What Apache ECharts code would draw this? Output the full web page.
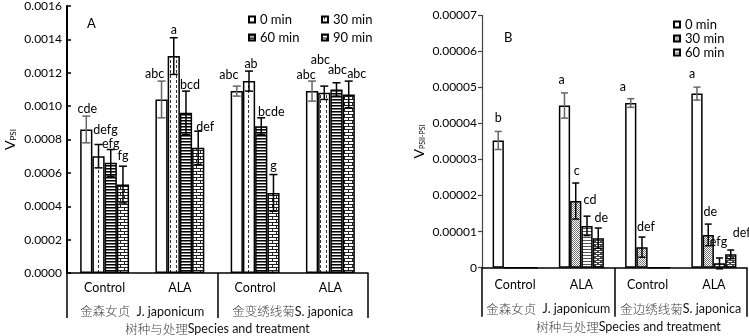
<!DOCTYPE html>
<html><head><meta charset="utf-8">
<script src="https://cdn.jsdelivr.net/npm/echarts@6/dist/echarts.min.js"></script>
<style>html,body{margin:0;padding:0;background:#fff}#c{width:749px;height:336px}</style>
</head><body><div id="c"></div>
<script>
// ---------- data ----------
const categories = ['Control', 'ALA', 'Control', 'ALA'];
const speciesA = ['金森女贞  J. japonicum', '金变绣线菊S. japonica'];
const speciesB = ['金森女贞  J. japonicum', '金边绣线菊S. japonica'];
const xAxisName = '树种与处理Species and treatment';
const seriesNames = ['0 min', '30 min', '60 min', '90 min'];

// Panel A: V_PSI
const a0  = [0.00086, 0.00104, 0.00109, 0.00109];
const a30 = [0.00070, 0.00130, 0.00115, 0.00108];
const a60 = [0.00066, 0.00096, 0.00088, 0.00110];
const a90 = [0.00053, 0.00075, 0.00048, 0.00107];
const aErr0  = [0.00008, 0.00011, 0.00003, 0.00006];
const aErr30 = [0.00007, 0.00011, 0.00006, 0.00004];
const aErr60 = [0.00008, 0.00013, 0.00005, 0.00004];
const aErr90 = [0.00011, 0.00010, 0.00011, 0.00008];
const aLet0  = ['cde', 'abc', 'abc', 'abc'];
const aLet30 = ['defg', 'a', 'ab', 'abc'];
const aLet60 = ['efg', 'bcd', 'bcde', 'abc'];
const aLet90 = ['fg', 'def', 'g', 'abc'];
const aTicks = [0, 0.0016, 0.0002];

// Panel B: V_PSII-PSI
const b0  = [0.0000353, 0.0000450, 0.0000457, 0.0000483];
const b30 = [0, 0.0000185, 0.0000057, 0.0000091];
const b60 = [0, 0.0000116, 0, 0.0000012];
const b90 = [0, 0.0000082, 0, 0.0000037];
const bErr0  = [0.0000025, 0.0000035, 0.0000012, 0.0000018];
const bErr30 = [0, 0.0000050, 0.0000028, 0.0000030];
const bErr60 = [0, 0.0000027, 0, 0.0000015];
const bErr90 = [0, 0.0000028, 0, 0.0000012];
const bLet0  = ['b', 'a', 'a', 'a'];
const bLet30 = ['', 'c', 'def', 'de'];
const bLet60 = ['', 'cd', '', 'efg'];
const bLet90 = ['', 'de', '', 'def'];
const bTicks = [0, 0.00007, 0.00001];

// ---------- layout (label nudges in px: [dx, dy] from bar centre / error-bar top) ----------
const aNudge = [
  [[1,-7],[-7,-7],[-8,-11],[-6,-6]],
  [[7,-15],[0,-8],[2,-7],[-4,-26]],
  [[0,-6],[4,-6],[10,-6],[1,-13]],
  [[0,-10],[7,-4],[0,-9],[8,-7]]
];
const bNudge = [
  [[0,-13],[-3,-13],[-8,-12],[-5,-13]],
  [[0,0],[1,-12],[4,-10],[2,-12]],
  [[0,0],[3,-16],[0,0],[-1,-16]],
  [[0,0],[3,-10],[0,0],[11,-17]]
];
const CAT_GAP_A = 0.35, CAT_GAP_B = 0.32;
const FONT = 'Lato, "Noto Sans", sans-serif';
const CJK = '"Noto Sans CJK SC", sans-serif';

function pat(w, h, draw) {
  const c = document.createElement('canvas');
  c.width = w; c.height = h;
  const g = c.getContext('2d');
  g.fillStyle = '#fff'; g.fillRect(0, 0, w, h);
  draw(g);
  return { image: c, repeat: 'repeat' };
}
const fillsA = [
  '#ffffff',
  pat(6, 5, g => { g.fillStyle = '#333'; g.fillRect(2, 0, 1, 3); }),
  pat(4, 3, g => { g.fillStyle = '#000'; g.fillRect(0, 0, 4, 1); g.fillStyle = '#777'; g.fillRect(0, 1, 4, 1); }),
  pat(8, 6, g => { g.fillStyle = '#222'; g.fillRect(0, 0, 8, 1); g.fillRect(0, 3, 8, 1); g.fillRect(0, 0, 1, 3); g.fillRect(4, 3, 1, 3); })
];
const fillsB = [
  '#ffffff',
  pat(2, 2, g => { g.fillStyle = '#777'; g.fillRect(0, 0, 1, 1); g.fillRect(1, 1, 1, 1); }),
  pat(4, 3, g => { g.fillStyle = '#555'; g.fillRect(0, 0, 4, 1); }),
  pat(6, 4, g => { g.fillStyle = '#444'; g.fillRect(0, 0, 6, 1); g.fillRect(0, 2, 6, 1); g.fillRect(0, 1, 1, 1); g.fillRect(3, 3, 1, 1); g.fillRect(1,1,1,1); g.fillRect(4,3,1,1); })
];

function richCJK(s) {
  return s.replace(/([\u4e00-\u9fff]+)/g, '{c|$1}').replace(/(^|\})([^{}]+)(?=\{|$)/g, '$1{e|$2}');
}
const richStyles = {
  c: { fontFamily: CJK, fontSize: 12.5, color: '#444', fontWeight: 300 },
  e: { fontFamily: FONT, fontSize: 12.5, color: '#111' }
};

const A = { vals: [a0, a30, a60, a90], errs: [aErr0, aErr30, aErr60, aErr90], lets: [aLet0, aLet30, aLet60, aLet90], fills: fillsA, nudge: aNudge, gap: CAT_GAP_A };
const B = { vals: [b0, b30, b60, b90], errs: [bErr0, bErr30, bErr60, bErr90], lets: [bLet0, bLet30, bLet60, bLet90], fills: fillsB, nudge: bNudge, gap: CAT_GAP_B };

const series = [];
function addPanel(P, xIdx, yIdx, suffix, capHalf) {
  P.vals.forEach((vals, k) => {
    series.push({
      type: 'bar', name: seriesNames[k] + suffix, xAxisIndex: xIdx, yAxisIndex: yIdx,
      data: vals, barGap: '0%', barCategoryGap: (P.gap * 100) + '%',
      itemStyle: { color: P.fills[k], borderColor: '#000', borderWidth: 1.5 },
      emphasis: { disabled: true }, animation: false, z: 2
    });
  });
  P.vals.forEach((vals, k) => {
    series.push({
      type: 'custom', xAxisIndex: xIdx, yAxisIndex: yIdx, animation: false, z: 5, silent: true,
      data: vals.map((v, i) => [i, v, P.errs[k][i]]),
      renderItem: function (params, api) {
        const i = api.value(0), v = api.value(1), e = api.value(2);
        const band = api.size([1, 0])[0];
        const bw = band * (1 - P.gap) / 4;
        const base = api.coord([i, v]);
        const cx = base[0] + (k - 1.5) * bw;
        const children = [];
        const col = k === 0 ? '#666' : '#000';
        let topY = base[1];
        if (e > 0) {
          const t = api.coord([i, v + e])[1], b = api.coord([i, v - e])[1];
          topY = t;
          const ls = { stroke: col, lineWidth: 1.5 };
          children.push({ type: 'line', shape: { x1: cx, y1: t, x2: cx, y2: b }, style: ls });
          children.push({ type: 'line', shape: { x1: cx - capHalf, y1: t, x2: cx + capHalf, y2: t }, style: ls });
          children.push({ type: 'line', shape: { x1: cx - capHalf, y1: b, x2: cx + capHalf, y2: b }, style: ls });
        }
        const txt = P.lets[k][i];
        if (txt) {
          const n = P.nudge[k][i];
          children.push({ type: 'text', x: cx + n[0], y: topY + n[1],
            style: { text: txt, align: 'center', verticalAlign: 'middle', fontSize: 12.5, fontFamily: FONT, fill: '#000' } });
        }
        return { type: 'group', children: children };
      }
    });
  });
}
addPanel(A, 0, 0, '', 4);
addPanel(B, 2, 1, '\u200b', 3.5);

const chart = echarts.init(document.getElementById('c'), null, { renderer: 'canvas' });
const catAxis = (grid, margin) => ({
  type: 'category', gridIndex: grid, data: categories, position: 'bottom',
  axisLine: { show: true, lineStyle: { color: '#000', width: 1.5 } },
  axisTick: { show: false },
  axisLabel: { margin: margin, fontSize: 12.5, fontFamily: FONT, color: '#000' }
});
const spAxis = (grid, data, margin, tickLen, nameGap, namePad) => ({
  type: 'category', gridIndex: grid, data: data, position: 'bottom',
  axisLine: { show: false },
  axisTick: { show: true, length: tickLen, lineStyle: { color: '#000', width: 1.5 } },
  axisLabel: { margin: margin, formatter: v => richCJK(v), rich: richStyles, interval: 0 },
  name: richCJK(xAxisName), nameLocation: 'middle', nameGap: nameGap,
  nameTextStyle: { rich: richStyles, padding: namePad }
});
const fmtA = v => v.toFixed(4);
const fmtB = v => (v === 0 ? '0' : v.toFixed(5));

chart.setOption({
  animation: false,
  backgroundColor: '#fff',
  grid: [
    { left: 67, top: 6, width: 301, height: 267, containLabel: false, outerBoundsMode: 'none' },
    { left: 482, top: 15.4, width: 265, height: 252.3, containLabel: false, outerBoundsMode: 'none' }
  ],
  xAxis: [
    catAxis(0, 8),
    spAxis(0, speciesA, 32, 45, 48, [0, 0, 0, 0]),
    catAxis(1, 11),
    spAxis(1, speciesB, 35, 49, 52, [0, 0, 0, 28])
  ],
  yAxis: [
    { type: 'value', gridIndex: 0, min: aTicks[0], max: aTicks[1], interval: aTicks[2],
      axisLine: { show: true, lineStyle: { color: '#000', width: 2 } },
      axisTick: { show: true, inside: true, length: 4, lineStyle: { color: '#000', width: 1.5 } },
      splitLine: { show: false },
      axisLabel: { formatter: fmtA, fontSize: 12, fontFamily: FONT, color: '#000', margin: 5 },
      name: '{v|V}{s|PSI}', nameLocation: 'middle', nameRotate: 90, nameGap: 50,
      nameTextStyle: { rich: { v: { fontSize: 14, fontFamily: FONT, color: '#000' }, s: { fontSize: 8, fontFamily: FONT, color: '#000', verticalAlign: 'bottom', padding: [6, 0, 0, 0] } } } },
    { type: 'value', gridIndex: 1, min: bTicks[0], max: bTicks[1], interval: bTicks[2],
      axisLine: { show: true, lineStyle: { color: '#444', width: 1.2 } },
      axisTick: { show: true, inside: false, length: 4, lineStyle: { color: '#444', width: 1.2 } },
      splitLine: { show: false },
      axisLabel: { formatter: fmtB, fontSize: 12, fontFamily: FONT, color: '#000', margin: 5 },
      name: '{v|V}{s|PSII-PSI}', nameLocation: 'middle', nameRotate: 90, nameGap: 56,
      nameTextStyle: { padding: [0, 0, 0, 0], rich: { v: { fontSize: 14, fontFamily: FONT, color: '#000' }, s: { fontSize: 7, fontFamily: FONT, color: '#000', verticalAlign: 'bottom', padding: [6, 0, 0, 0] } } } }
  ],
  legend: [
    { orient: 'vertical', left: 243, top: 8, data: ['0 min', '60 min'], itemWidth: 6, itemHeight: 6, itemGap: 5, icon: 'rect',
      textStyle: { fontSize: 13, fontFamily: FONT, color: '#000' }, selectedMode: false },
    { orient: 'vertical', left: 316, top: 8, data: ['30 min', '90 min'], itemWidth: 6, itemHeight: 6, itemGap: 5, icon: 'rect',
      textStyle: { fontSize: 13, fontFamily: FONT, color: '#000' }, selectedMode: false },
    { orient: 'vertical', left: 668, top: 13, data: ['0 min\u200b', '30 min\u200b', '60 min\u200b'], itemWidth: 6, itemHeight: 6, itemGap: 1, icon: 'rect',
      textStyle: { fontSize: 13, fontFamily: FONT, color: '#000' }, selectedMode: false }
  ],
  title: [
    { text: 'A', left: 82, top: 12, textStyle: { fontSize: 13, fontWeight: 'normal', fontFamily: FONT, color: '#000' } },
    { text: 'B', left: 499, top: 26, textStyle: { fontSize: 13, fontWeight: 'normal', fontFamily: FONT, color: '#000' } }
  ],
  series: series
});
</script></body></html>
